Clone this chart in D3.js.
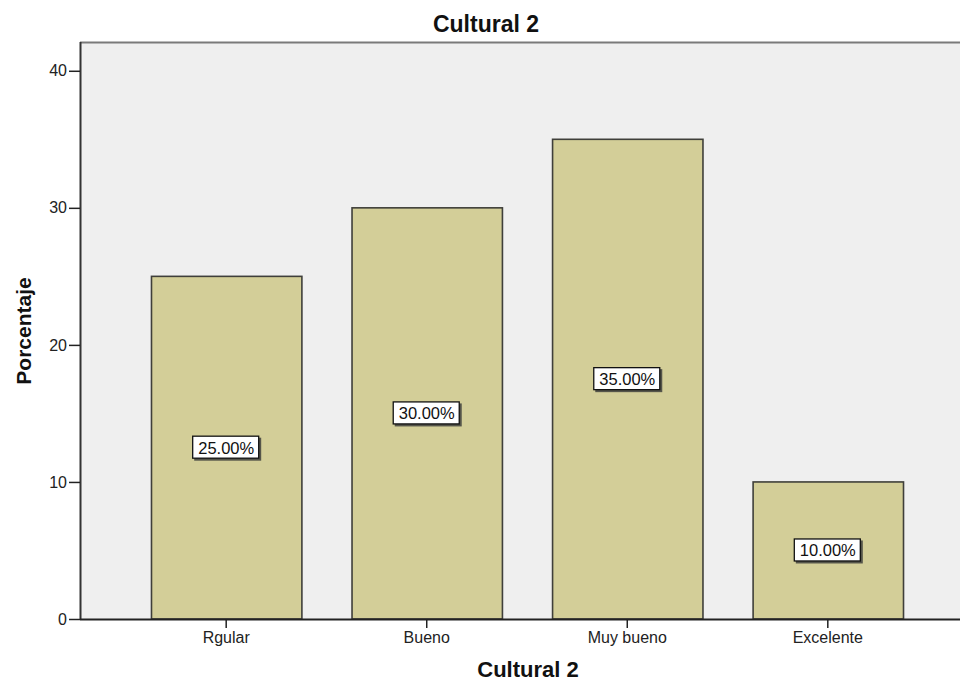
<!DOCTYPE html>
<html><head><meta charset="utf-8">
<script src="https://cdn.jsdelivr.net/npm/d3@7"></script>
<style>body{margin:0;background:#fff}svg{display:block;font-family:"Liberation Sans",Arial,sans-serif}</style>
</head><body>
<svg id="c" width="960" height="682"></svg>
<script>
const categories = ["Rgular", "Bueno", "Muy bueno", "Excelente"];
const values = [25, 30, 35, 10];
const labels = ["25.00%", "30.00%", "35.00%", "10.00%"];
const yTicks = [0, 10, 20, 30, 40];
const title = "Cultural 2";
const xTitle = "Cultural 2";
const yTitle = "Porcentaje";

const svg = d3.select("#c");
const L = 80, T = 42, B = 619, R = 974;
const x = d3.scaleBand().domain(categories).range([L, R]).paddingInner(0.25).paddingOuter(0.354);
const y = d3.scaleLinear().domain([0, 42.1]).range([B, T]);

svg.append("rect").attr("x", L).attr("y", T).attr("width", 960 - L).attr("height", B - T).attr("fill", "#efefef");
svg.append("line").attr("x1", L).attr("x2", 960).attr("y1", T + 0.5).attr("y2", T + 0.5).attr("stroke", "#7a7a7a").attr("stroke-width", 2);

svg.selectAll("rect.bar").data(values).enter().append("rect").attr("class", "bar")
  .attr("x", (d, i) => x(categories[i]) + 0.5).attr("width", x.bandwidth())
  .attr("y", d => y(d)).attr("height", d => B - y(d))
  .attr("fill", "#d3ce98").attr("stroke", "#3f3f3a").attr("stroke-width", 1.6);

// y axis
const ya = svg.append("g").attr("transform", `translate(${L},0)`)
  .call(d3.axisLeft(y).tickValues(yTicks).tickSize(11).tickPadding(2).tickFormat(d3.format("d")));
ya.select(".domain").attr("d", `M0.5,${T}V${B}`).attr("stroke", "#333").attr("stroke-width", 2);
ya.selectAll(".tick line").attr("stroke", "#222").attr("stroke-width", 1.5);
ya.selectAll(".tick text").attr("font-size", 16).attr("fill", "#222").attr("font-family", "Liberation Sans, Arial, sans-serif");

// x axis
const xa = svg.append("g").attr("transform", `translate(0,${B})`)
  .call(d3.axisBottom(x).tickSize(9).tickPadding(4));
xa.select(".domain").attr("d", `M${L},0.5H960`).attr("stroke", "#222").attr("stroke-width", 2);
xa.selectAll(".tick line").attr("stroke", "#222").attr("stroke-width", 1.5);
xa.selectAll(".tick text").attr("font-size", 16).attr("fill", "#222").attr("font-family", "Liberation Sans, Arial, sans-serif");

// labels
const lg = svg.selectAll("g.lab").data(values).enter().append("g").attr("class", "lab")
  .attr("transform", (d, i) => `translate(${x(categories[i]) + x.bandwidth() / 2},${y(d / 2)})`);
lg.append("rect").attr("x", -32).attr("y", -10).attr("width", 67).attr("height", 23).attr("fill", "#55554a");
lg.append("rect").attr("x", -33.5).attr("y", -11.5).attr("width", 66).attr("height", 22).attr("fill", "#fff").attr("stroke", "#111").attr("stroke-width", 1.3);
lg.append("text").attr("text-anchor", "middle").attr("y", 6).attr("font-size", 16.5).attr("fill", "#111")
  .text((d, i) => labels[i]);

// titles
svg.append("text").attr("x", 486).attr("y", 32).attr("text-anchor", "middle").attr("font-weight", "bold").attr("font-size", 23).attr("fill", "#111").text(title);
svg.append("text").attr("x", 528).attr("y", 677).attr("text-anchor", "middle").attr("font-weight", "bold").attr("font-size", 22).attr("fill", "#111").text(xTitle);
svg.append("text").attr("transform", "translate(31,331) rotate(-90)").attr("text-anchor", "middle").attr("font-weight", "bold").attr("font-size", 21).attr("fill", "#111").text(yTitle);
</script>
</body></html>
